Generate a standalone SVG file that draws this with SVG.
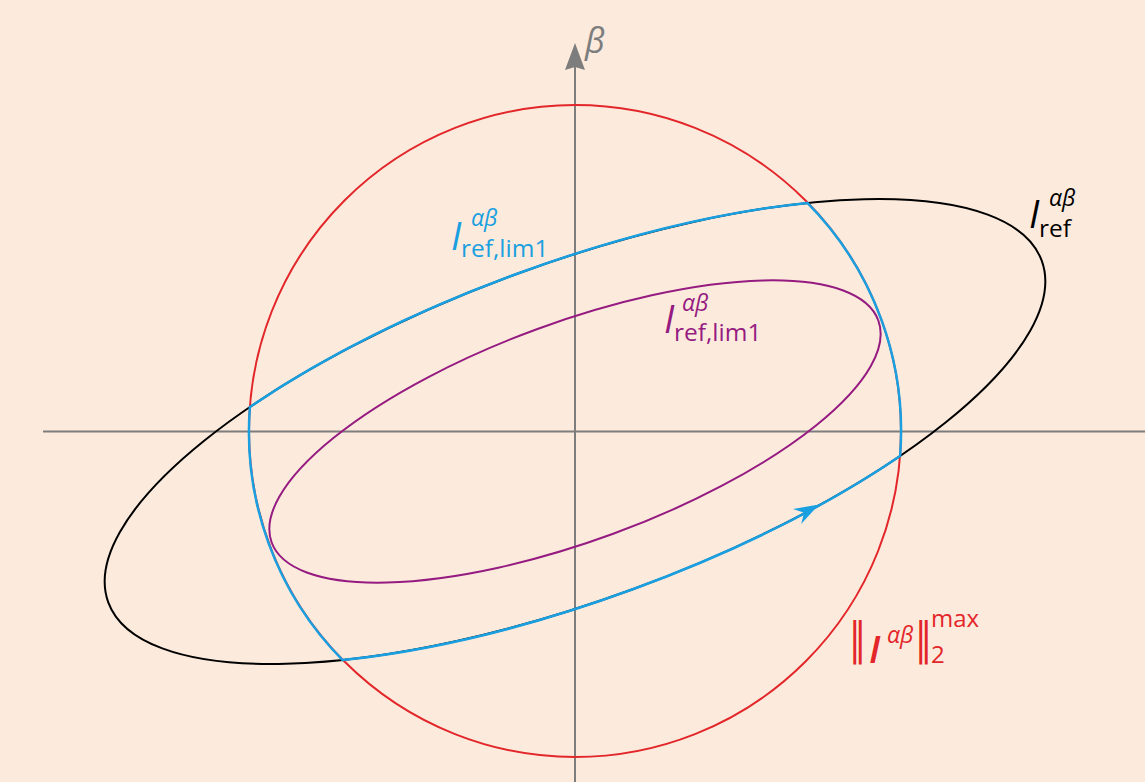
<svg xmlns="http://www.w3.org/2000/svg" width="1145" height="782" viewBox="0 0 1145 782">
<style>
.ax{stroke:#7d7d7d;stroke-width:2;fill:none}
.lbl{font-family:"Open Sans","Liberation Sans",sans-serif}
.it{font-style:italic}
.bar{font-family:"DejaVu Sans",sans-serif;font-size:38px}
</style>
<rect width="1145" height="782" fill="#fcebdd"/>
<g id="axes">
<line class="ax" x1="43" y1="431.5" x2="1145" y2="431.5"/>
<line class="ax" x1="575" y1="782" x2="575" y2="64"/>
<polygon points="575,43 585,70 575,67 565,70" fill="#7d7d7d"/>
<text class="lbl it" x="585" y="53" font-size="34" fill="#7d7d7d">β</text>
</g>
<g id="circle">
<circle cx="575" cy="431" r="326" fill="none" stroke="#e3262a" stroke-width="2"/>
</g>
<g id="ref">
<ellipse cx="575" cy="431.5" rx="497" ry="168" transform="rotate(-20.1 575 431.5)" fill="none" stroke="#000" stroke-width="2"/>
</g>
<g id="lim2">
<ellipse cx="575" cy="431.5" rx="323" ry="109.2" transform="rotate(-20.1 575 431.5)" fill="none" stroke="#951b81" stroke-width="2"/>
</g>
<g id="connectors">
<path d="M 249.9 407 A 497 168 -20.1 0 1 807.4 202.9 A 324.5 324.5 0 0 1 900.1 456 A 497 168 -20.1 0 1 342.6 660.1 A 324.5 324.5 0 0 1 249.9 407 Z" fill="none" stroke="#1a9fe0" stroke-width="2.5"/>
<polygon points="0,0 -25,-8.5 -17,0 -25,8.5" fill="#1a9fe0" transform="translate(819 504.5) rotate(-28.7)"/>
</g>
<g id="label-lim1">
<text class="lbl it" x="451" y="250" font-size="38" fill="#1a9fe0">I</text>
<text class="lbl it" x="471" y="226" font-size="23" fill="#1a9fe0">αβ</text>
<text class="lbl" x="461" y="257" font-size="24.5" fill="#1a9fe0">ref,lim1</text>
</g>
<g id="label-ref">
<text class="lbl it" x="1029" y="228" font-size="38" fill="#000">I</text>
<text class="lbl it" x="1049" y="206" font-size="23" fill="#000">αβ</text>
<text class="lbl" x="1039" y="237" font-size="24.5" fill="#000">ref</text>
</g>
<g id="label-lim2">
<text class="lbl it" x="664" y="333" font-size="38" fill="#951b81">I</text>
<text class="lbl it" x="682" y="311" font-size="23" fill="#951b81">αβ</text>
<text class="lbl" x="674" y="341" font-size="24.5" fill="#951b81">ref,lim1</text>
</g>
<g id="label-max">
<text class="bar" transform="translate(849 654) scale(0.9 1.18)" fill="#e3262a">‖</text>
<text class="lbl it" x="869" y="663" font-size="38" fill="#e3262a" font-weight="600">I</text>
<text class="lbl it" x="887" y="643" font-size="23" fill="#e3262a">αβ</text>
<text class="bar" transform="translate(915 654) scale(0.9 1.18)" fill="#e3262a">‖</text>
<text class="lbl" x="931" y="627" font-size="24" fill="#e3262a">max</text>
<text class="lbl" x="931" y="663" font-size="24" fill="#e3262a">2</text>
</g>
</svg>
